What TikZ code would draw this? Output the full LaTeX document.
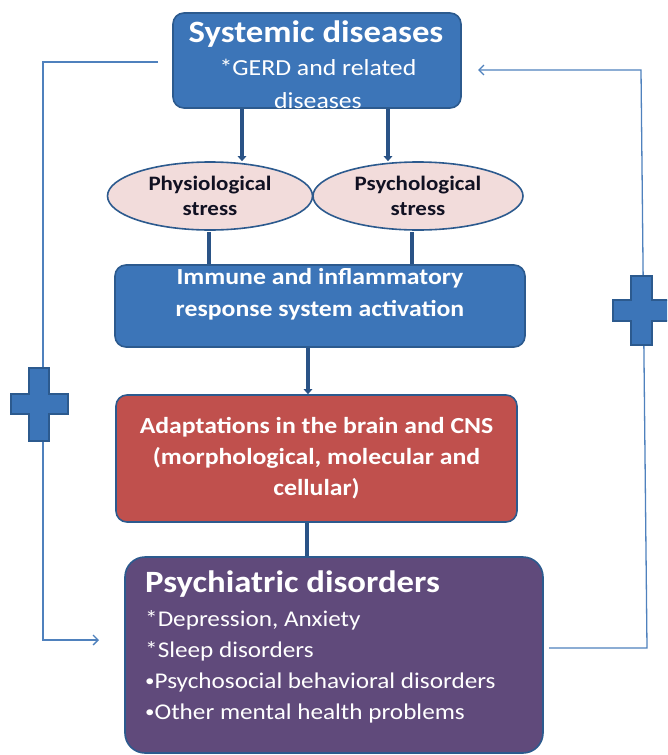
\documentclass[tikz,border=0pt]{standalone}
\usepackage{fontspec}
\setmainfont{Carlito}[FakeStretch=1.12]
\usetikzlibrary{shapes.geometric,arrows.meta}
\definecolor{boxblue}{HTML}{3C75B8}
\definecolor{edgeblue}{HTML}{2C5A8E}
\definecolor{pinkfill}{HTML}{F2DCDB}
\definecolor{redfill}{HTML}{C0504D}
\definecolor{purplefill}{HTML}{604A7B}
\definecolor{thinblue}{HTML}{4F81BD}
\definecolor{darkarrow}{HTML}{2A5386}
\definecolor{darktext}{HTML}{111122}
\newcommand{\smallbul}{\raisebox{0.12ex}{\scalebox{0.75}{•}}}
\tikzset{
  boxstyle/.style={draw=edgeblue, line width=1.6pt, rounded corners=11pt, inner sep=0pt},
  ovalstyle/.style={ellipse, draw=edgeblue, line width=1.6pt, fill=pinkfill, inner sep=0pt,
     text=darktext, font=\bfseries\fontsize{20.5}{25}\selectfont, align=center},
  thickarrow/.style={draw=darkarrow, line width=4.5pt, -{Triangle[width=8.5pt,length=5pt]}},
  thickline/.style={draw=darkarrow, line width=4.5pt},
  feedback/.style={draw=thinblue, line width=1.3pt, -{Straight Barb[length=5pt,width=10pt]}},
  plusshape/.style={fill=boxblue, draw=edgeblue, line width=1.4pt},
  wtext/.style={text=white, align=center},
  listline/.style={text=white, anchor=base west, inner sep=0pt, font=\fontsize{22.5}{27}\selectfont},
}
\begin{document}
\begin{tikzpicture}[x=1pt,y=-1pt]
\useasboundingbox (0,0) rectangle (667,755);
\clip (0,0) rectangle (667,755);

% boxes
\node[boxstyle, fill=boxblue, minimum width=288pt, minimum height=95pt] (sys) at (317,60.5) {};
\node[wtext, inner sep=0pt, anchor=base, font=\bfseries\fontsize{31}{33}\selectfont] (systitle) at (316,42) {Systemic diseases};
\node[wtext, font=\fontsize{23}{33}\selectfont] (systext) at (318,84) {*GERD and related\\diseases};

\node[ovalstyle, minimum width=205pt, minimum height=68pt] (phys) at (210,196) {Physiological\\stress};
\node[ovalstyle, minimum width=210pt, minimum height=68pt] (psyc) at (418,196) {Psychological\\stress};

\node[boxstyle, fill=boxblue, minimum width=410pt, minimum height=82pt] (imm) at (320,306) {};
\node[wtext, font=\bfseries\fontsize{23}{32}\selectfont] (immtext) at (320,294) {Immune and inflammatory\\response system activation};

\node[boxstyle, fill=redfill, minimum width=401pt, minimum height=127pt, wtext,
      font=\bfseries\fontsize{23}{31}\selectfont] (adap) at (316.5,458.5)
      {Adaptations in the brain and CNS\\(morphological, molecular and\\cellular)};

\node[boxstyle, fill=purplefill, rounded corners=20pt, minimum width=418pt, minimum height=196pt] (psy) at (334,655) {};
\node[text=white, anchor=base west, inner sep=0pt, font=\bfseries\fontsize{31}{33}\selectfont] (psytitle) at (145,592) {Psychiatric disorders};
\node[listline] (psyl1) at (145,626) {*Depression, Anxiety};
\node[listline] (psyl2) at (145,657) {*Sleep disorders};
\node[listline] (psyl3) at (145,688) {\smallbul Psychosocial behavioral disorders};
\node[listline] (psyl4) at (145,719) {\smallbul Other mental health problems};

% thick connectors
\draw[thickarrow] (sys.south -| 242,0) -- (phys.north -| 242,0);
\draw[thickarrow] (sys.south -| 388,0) -- (psyc.north -| 388,0);
\coordinate (pl) at (209,232);
\coordinate (pr) at (412,232);
\draw[thickline] (pl) -- (imm.north -| pl);
\draw[thickline] (pr) -- (imm.north -| pr);
\draw[thickarrow] (imm.south -| 308,0) -- (adap.north -| 308,0);
\draw[thickline] (adap.south -| 307,0) -- (psy.north -| 307,0);

% feedback loops
\coordinate (lstart) at (158,62);
\coordinate (lend) at (99,640);
\draw[feedback] (lstart) -- (43,62) -- (43,640) -- (lend);
\coordinate (rstart) at (549,648);
\coordinate (rend) at (478,70);
\draw[feedback] (rstart) -- (647,648) -- (641,70) -- (rend);

% plus signs
\draw[plusshape] (29,368) -- (49,368) -- (49,394) -- (68,394) -- (68,414) -- (49,414) -- (49,441)
  -- (29,441) -- (29,414) -- (11,414) -- (11,394) -- (29,394) -- cycle;
\draw[plusshape] (631,276) -- (652,276) -- (652,300) -- (672,300) -- (672,321) -- (652,321) -- (652,345)
  -- (631,345) -- (631,321) -- (613,321) -- (613,300) -- (631,300) -- cycle;
\end{tikzpicture}
\end{document}
